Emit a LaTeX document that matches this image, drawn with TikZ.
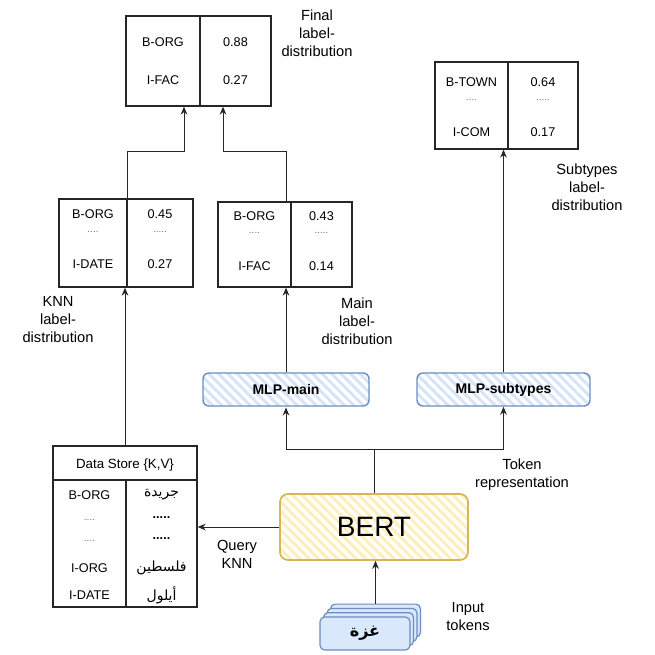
\documentclass[tikz,border=0pt]{standalone}
\usepackage{fontspec}
\setmainfont{Liberation Sans}
\newfontfamily\arabicfont[Script=Arabic]{DejaVu Sans}
\TeXXeTstate=1
\usetikzlibrary{arrows.meta,patterns.meta}

\definecolor{bertline}{RGB}{214,182,86}
\definecolor{berthatch}{RGB}{253,238,186}
\definecolor{mlpline}{RGB}{108,142,191}
\definecolor{mlphatch}{RGB}{214,228,248}
\definecolor{tokfill}{RGB}{218,232,252}

\tikzset{
  wh/.style 2 args={minimum width=#1*0.75pt,minimum height=#2*0.75pt},
  cell/.style={draw=black!85,line width=1pt,inner sep=0pt},
  celltxt/.style={inner sep=0.75pt,font=\fontsize{9.5}{11}\selectfont},
  dots/.style={inner sep=0.75pt,text=black!55,font=\fontsize{7.5}{8}\selectfont},
  arabic/.style={inner sep=0.75pt,font=\arabicfont\fontsize{10.5}{12}\selectfont},
  lbl/.style={align=center,inner sep=0.75pt,font=\fontsize{11}{13.5}\selectfont},
  arr/.style={draw=black!85,line width=0.75pt,-{Stealth[length=6pt,width=5pt]}},
  link/.style={draw=black!85,line width=0.75pt},
  bertbox/.style={draw=bertline,line width=1.3pt,rounded corners=6pt,preaction={fill=white},
    pattern={Lines[angle=-45,distance=5pt,line width=2.2pt]},pattern color=berthatch},
  mlpbox/.style={draw=mlpline,line width=1.1pt,rounded corners=4.5pt,preaction={fill=white},
    pattern={Lines[angle=-45,distance=5pt,line width=2.2pt]},pattern color=mlphatch,
    font=\fontsize{10.5}{12}\selectfont\bfseries},
  tokbox/.style={draw=mlpline,line width=0.9pt,rounded corners=3.5pt,fill=tokfill}
}

\begin{document}
\begin{tikzpicture}[x=0.75pt,y=0.75pt,yscale=-1,xscale=1]
\useasboundingbox (0,0) rectangle (655,655);

%Shape: Final table
\node [cell,wh={74}{90}] (finL) at (163,61) {};
\node [cell,wh={71}{90}] (finR) at (235.5,61) {};
%Shape: Subtypes table
\node [cell,wh={73}{87}] (subL) at (471.5,105.5) {};
\node [cell,wh={70}{87}] (subR) at (543,105.5) {};
%Shape: KNN table
\node [cell,wh={68}{88}] (knnL) at (93,243) {};
\node [cell,wh={66}{88}] (knnR) at (160,243) {};
%Shape: Main table
\node [cell,wh={73}{85}] (mainL) at (254.5,244.5) {};
\node [cell,wh={61}{85}] (mainR) at (321.5,244.5) {};
%Shape: Data store
\node [cell,wh={144}{34}] (dsH) at (125,463) {};
\node [cell,wh={73}{127}] (dsL) at (89.5,543.5) {};
\node [cell,wh={71}{127}] (dsR) at (161.5,543.5) {};

%Shape: MLP heads
\node [mlpbox,wh={166}{33}] (mlpm) at (286,389.5) {MLP-main};
\node [mlpbox,wh={173}{33}] (mlps) at (503.5,389.5) {MLP-subtypes};
%Shape: BERT
\node [bertbox,wh={188}{66},font=\fontsize{21}{24}\selectfont] (bert) at (374,527) {BERT};
%Shape: Input tokens
\node [tokbox,wh={90}{33}] (tok3) at (375.5,620.6) {};
\node [tokbox,wh={90}{33}] (tok2) at (372,624.9) {};
\node [tokbox,wh={90}{33}] (tok1) at (368.5,629.2) {};
\node [tokbox,wh={90}{33},font=\arabicfont\bfseries\fontsize{12}{14}\selectfont] (tok0) at (365,633.5) {\beginR غزة\endR};

% Connectors
\coordinate (jk) at (184,152);
\coordinate (jm) at (223,152);
\coordinate (tj) at (374,449);
\draw [arr] (knnL.north east) |- (jk) -- (jk |- finL.south);
\draw [arr] (mlpm.north |- mainL.north) |- (jm) -- (jm |- finR.south);
\draw [arr] (mlpm.north) -- (mlpm.north |- mainL.south);
\draw [arr] (mlps.north) -- (mlps.north |- subL.south);
\draw [link] (bert.north) -- (tj);
\draw [arr] (tj) -| (mlpm.south);
\draw [arr] (tj) -| (mlps.south);
\draw [arr] (bert.west) -- (dsR.east |- bert.west);
\draw [arr] (dsH.north) -- (dsH.north |- knnL.south);
\draw [arr] (tok3.north) -- (tok3.north |- bert.south);

% Text Node
\node [celltxt] (f1) at (163,42) {B-ORG};
\node [celltxt] (f2) at (235.5,42) {0.88};
\node [celltxt] (f3) at (163,80) {I-FAC};
\node [celltxt] (f4) at (235.5,80) {0.27};
% Text Node
\node [celltxt] (s1) at (471.5,82) {B-TOWN};
\node [celltxt] (s2) at (543,82) {0.64};
\node [dots] (s3) at (471.5,100) {....};
\node [dots] (s4) at (543,100) {.....};
\node [celltxt] (s5) at (471.5,132) {I-COM};
\node [celltxt] (s6) at (543,132) {0.17};
% Text Node
\node [celltxt] (k1) at (93,214) {B-ORG};
\node [celltxt] (k2) at (160,214) {0.45};
\node [dots] (k3) at (93,232) {....};
\node [dots] (k4) at (160,232) {.....};
\node [celltxt] (k5) at (93,264) {I-DATE};
\node [celltxt] (k6) at (160,264) {0.27};
% Text Node
\node [celltxt] (m1) at (254.5,216) {B-ORG};
\node [celltxt] (m2) at (321.5,216) {0.43};
\node [dots] (m3) at (254.5,233) {....};
\node [dots] (m4) at (321.5,233) {.....};
\node [celltxt] (m5) at (254.5,266) {I-FAC};
\node [celltxt] (m6) at (321.5,266) {0.14};
% Text Node
\node [celltxt,font=\fontsize{10}{12}\selectfont] (d0) at (125,465) {Data Store \{K,V\}};
\node [celltxt] (d1) at (89.5,495) {B-ORG};
\node [arabic] (d2) at (161.5,495) {\beginR جريدة\endR};
\node [dots] (d3) at (89.5,520) {....};
\node [celltxt,font=\bfseries\fontsize{9.5}{11}\selectfont] (d4) at (161.5,518) {.....};
\node [dots] (d5) at (89.5,541) {....};
\node [celltxt,font=\bfseries\fontsize{9.5}{11}\selectfont] (d6) at (161.5,539) {.....};
\node [celltxt] (d7) at (89.5,568) {I-ORG};
\node [arabic] (d8) at (161.5,568) {\beginR فلسطين\endR};
\node [celltxt] (d9) at (89.5,595) {I-DATE};
\node [arabic] (d10) at (161.5,595) {\beginR أيلول\endR};

% Labels
\node [lbl] (finlbl) at (317,33) {Final\\label-\\distribution};
\node [lbl] (sublbl) at (587,187) {Subtypes\\label-\\distribution};
\node [lbl] (knnlbl) at (58,320) {KNN\\label-\\distribution};
\node [lbl] (mainlbl) at (357,321) {Main\\label-\\distribution};
\node [lbl] (toklbl) at (522,475) {Token\\representation};
\node [lbl] (qlbl) at (237,554) {Query\\KNN};
\node [lbl] (inlbl) at (468,617) {Input\\tokens};
\end{tikzpicture}
\end{document}
